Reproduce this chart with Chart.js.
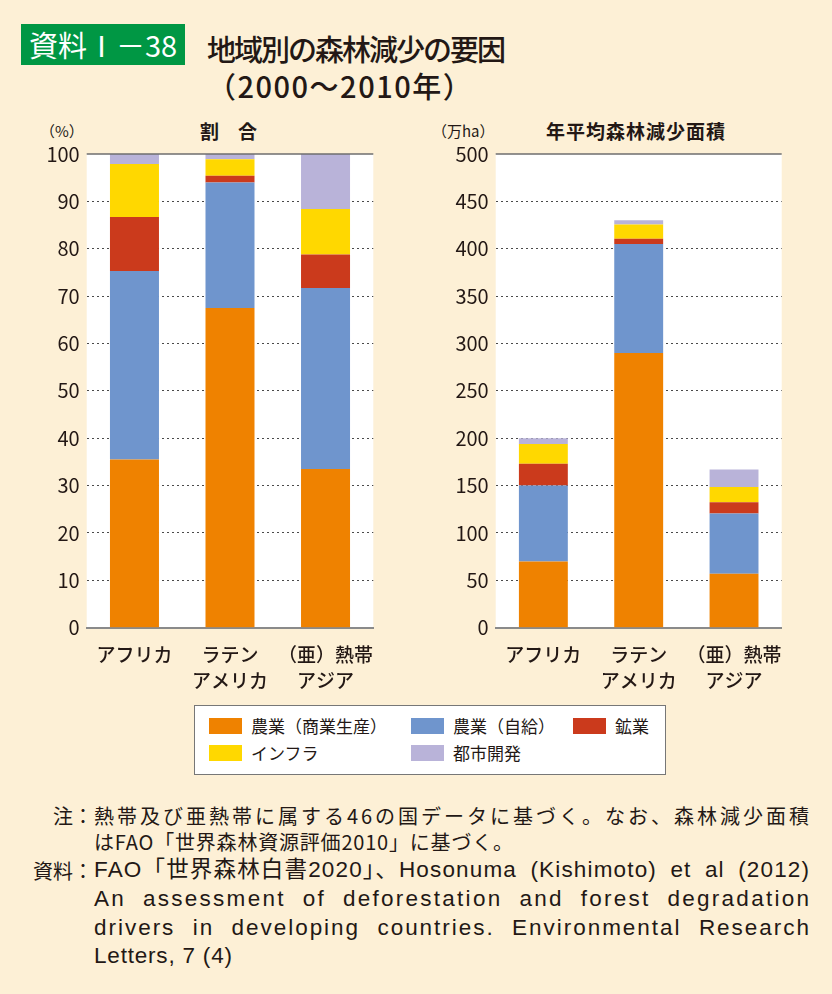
<!DOCTYPE html>
<html><head><meta charset="utf-8">
<script src="https://cdn.jsdelivr.net/npm/chart.js@4/dist/chart.umd.min.js"></script>
<style>
html,body{margin:0;padding:0;}
body{width:832px;height:994px;background:#FDF0D6;position:relative;overflow:hidden;font-family:"Noto Sans CJK JP","Noto Sans",sans-serif;color:#231815;}
.abs{position:absolute;white-space:nowrap;}
#badge{left:21px;top:24px;width:164px;height:41px;background:#009744;color:#fff;font-size:29px;line-height:41px;text-align:center;letter-spacing:0px;}
#t1{left:207px;top:28px;font-size:29px;line-height:40px;letter-spacing:-2px;font-weight:500;}
#t2{left:207px;top:65px;font-size:29px;line-height:40px;letter-spacing:1.5px;font-weight:500;}
.ctitle{font-size:19px;font-weight:700;line-height:24px;}
.unit{font-size:15px;line-height:20px;}
canvas{position:absolute;}
#legend{left:194px;top:705px;width:472px;height:70px;background:#fff;border:1.5px solid #777;box-sizing:border-box;}
.li{position:absolute;font-size:17px;line-height:20px;white-space:nowrap;}
.sw{position:absolute;width:33px;height:16px;}
.nl{position:absolute;font-size:20px;line-height:26px;white-space:nowrap;}
.lat{font-family:"Liberation Sans","Noto Sans CJK JP",sans-serif;font-size:22.5px;}
.lab{width:93px;text-align:right;left:0;}
.txt{left:94px;}
</style></head>
<body>
<div id="badge" class="abs">資料Ⅰ－38</div>
<div id="t1" class="abs">地域別の森林減少の要因</div>
<div id="t2" class="abs">（2000～2010年）</div>

<div class="abs unit" style="left:40px;top:121px;">（%）</div>
<div class="abs ctitle" style="left:200px;top:119px;">割　合</div>
<div class="abs unit" style="left:432px;top:121px;">（万ha）</div>
<div class="abs ctitle" style="left:546px;top:119px;letter-spacing:1px;">年平均森林減少面積</div>

<canvas id="c1" width="390" height="560" style="left:20px;top:135px;"></canvas>
<canvas id="c2" width="390" height="560" style="left:430px;top:135px;"></canvas>

<div id="legend" class="abs"></div>

<div class="nl lab" style="top:803px;">注：</div>
<div class="nl txt fit" style="top:803px;">熱帯及び亜熱帯に属する46の国データに基づく。なお、森林減少面積</div>
<div class="nl txt" style="top:829px;letter-spacing:0.8px;">はFAO「世界森林資源評価2010」に基づく。</div>
<div class="nl lab" style="top:858px;">資料：</div>
<div class="nl txt lat fit" style="top:857px;">FAO「世界森林白書2020」、Hosonuma (Kishimoto) et al (2012)</div>
<div class="nl txt lat fit" style="top:886px;">An assessment of deforestation and forest degradation</div>
<div class="nl txt lat fit" style="top:915px;">drivers in developing countries. Environmental Research</div>
<div class="nl txt lat" style="top:943px;letter-spacing:0.8px;">Letters, 7 (4)</div>

<script>
// ---- data ----
const categories = [['アフリカ'], ['ラテン','アメリカ'], ['（亜）熱帯','アジア']];
const seriesNames = ['農業（商業生産）','農業（自給）','鉱業','インフラ','都市開発'];
const seriesColors = ['#EF8200','#6F95CD','#CB3A1C','#FFD800','#B9B3D9'];
// share (%) by region
const shareCommercialAg = [35.5, 67.5, 33.5];
const shareSubsistenceAg = [39.8, 26.5, 38.2];
const shareMining = [11.4, 1.4, 7.1];
const shareInfrastructure = [11.2, 3.5, 9.6];
const shareUrban = [2.1, 1.1, 11.6];
// annual average forest loss (10,000 ha)
const areaCommercialAg = [70, 290, 57];
const areaSubsistenceAg = [80, 115, 63.5];
const areaMining = [23, 5.5, 12];
const areaInfrastructure = [21, 15, 16];
const areaUrban = [6, 4.5, 18.5];
const shareTicks = {min:0, max:100, step:10};
const areaTicks = {min:0, max:500, step:50};

const FONT = '"Noto Sans CJK JP","Noto Sans",sans-serif';
const TXT = '#231815';

const topLine = {
  id:'topLine',
  afterDatasetsDraw(chart){
    const {ctx, chartArea:a} = chart;
    ctx.save(); ctx.strokeStyle='#6e6e6e'; ctx.lineWidth=1.5;
    ctx.beginPath(); ctx.moveTo(a.left,a.top); ctx.lineTo(a.right,a.top); ctx.stroke(); ctx.restore();
  }
};
const plotBg = {
  id:'plotBg',
  beforeDraw(chart){
    const {ctx, chartArea:a} = chart;
    ctx.save(); ctx.fillStyle='#fff'; ctx.fillRect(a.left,a.top,a.right-a.left,a.bottom-a.top); ctx.restore();
  }
};

function makeChart(id, seriesData, tk, yWidth, padRight){
  const datasets = seriesData.map((d,i)=>({
    label: seriesNames[i], data: d, backgroundColor: seriesColors[i],
    borderWidth:0, barPercentage:0.513, categoryPercentage:1
  }));
  return new Chart(document.getElementById(id), {
    type:'bar',
    data:{labels:categories, datasets},
    plugins:[plotBg, topLine],
    options:{
      responsive:false, animation:false,
      layout:{padding:{top:5, right:padRight, left:0, bottom:0}},
      plugins:{legend:{display:false}, tooltip:{enabled:false}},
      scales:{
        x:{stacked:true,
           grid:{display:false},
           border:{display:true, color:'#8a8a8a', width:2},
           ticks:{color:TXT, font:{family:FONT, size:19, weight:500, lineHeight:1.32}, padding:7, maxRotation:0, autoSkip:false},
           afterFit(s){ s.height = 560-(627.7-135); }
        },
        y:{stacked:true, min:tk.min, max:tk.max,
           grid:{drawTicks:false, lineWidth:1,
                 color:(c)=> (c.tick && (c.tick.value===tk.min || c.tick.value===tk.max)) ? 'rgba(0,0,0,0)' : '#4a4a4a'},
           border:{display:false, dash:[2,3]},
           ticks:{stepSize:tk.step, color:TXT, padding:7, font:{family:FONT, size:20}},
           afterFit(s){ s.width = yWidth; }
        }
      }
    }
  });
}

makeChart('c1', [shareCommercialAg, shareSubsistenceAg, shareMining, shareInfrastructure, shareUrban], shareTicks, 66.7, 390-353.3);
makeChart('c2', [areaCommercialAg, areaSubsistenceAg, areaMining, areaInfrastructure, areaUrban], areaTicks, 65.7, 390-351.7);

// legend
const lg = document.getElementById('legend');
const pos = [[14,12],[216,12],[378,12],[14,39],[216,39]];
seriesNames.forEach((n,i)=>{
  const [x,y] = pos[i];
  const sw = document.createElement('div'); sw.className='sw';
  sw.style.left=x+'px'; sw.style.top=y+'px'; sw.style.background=seriesColors[i];
  lg.appendChild(sw);
  const t = document.createElement('div'); t.className='li'; t.textContent=n;
  t.style.left=(x+42)+'px'; t.style.top=(y-2)+'px';
  lg.appendChild(t);
});

// fit justified note lines: share extra width between letter- and word-spacing
document.querySelectorAll('.fit').forEach(el=>{
  const target = 715;
  const txt = el.textContent;
  const w = el.getBoundingClientRect().width;
  const n = txt.length;
  const spaces = (txt.match(/ /g)||[]).length;
  const extra = target - w;
  const wordPart = spaces ? extra*0.3 : 0;
  if (spaces) el.style.wordSpacing = (wordPart/spaces) + 'px';
  el.style.letterSpacing = ((extra - wordPart)/(n-1)) + 'px';
});
</script>
</body></html>
